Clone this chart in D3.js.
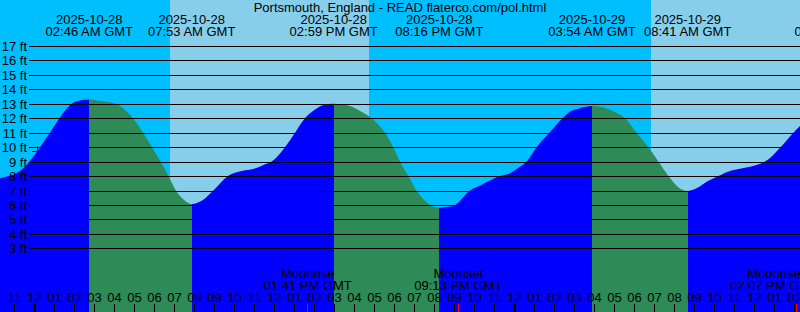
<!DOCTYPE html>
<html lang="en">
<head>
    <meta charset="UTF-8">
    <script src="https://d3js.org/d3.v7.min.js"></script>
    <style>
        body { margin: 0; background: #fff; }
        svg text { font-family: "Liberation Sans", Arial, sans-serif; fill: #000; }
    </style>
</head>
<body>
    <svg id="tide" width="800" height="312"></svg>

    <script>
        // hours after 2025-10-28 00:00 GMT
        const tideHours = [-1.7, -1.28, -0.7, -0.23, 0.3, 0.8, 1.27, 1.88, 2.3, 2.767, 3.3, 3.8, 4.3, 4.95, 5.45, 5.9, 6.33, 6.72, 7.1, 7.5, 7.883,
            8.45, 8.97, 9.7, 10.4, 11.0, 11.45, 11.88, 12.55, 13.05, 13.55, 14.0, 14.45, 14.983, 15.8, 16.3, 16.88, 17.55, 17.97, 18.3, 18.72, 19.13, 19.7, 20.267,
            20.6, 21.05, 21.8, 22.3, 22.8, 23.3, 23.8, 24.2, 24.63, 25.13, 25.77, 26.43, 26.8, 27.3, 27.9, 28.6, 29.0, 29.55, 30.13, 30.72, 31.22, 31.72, 32.2, 32.683,
            33.2, 33.7, 34.22, 34.8, 35.3, 35.8, 36.2, 36.55, 37.33, 37.97, 38.4];
        const tideFeet = [7.85, 8.0, 8.35, 9.0, 10.0, 11.0, 12.0, 13.0, 13.22, 13.3, 13.2, 13.1, 12.85, 12.0, 11.0, 10.0, 9.0, 8.0, 7.0, 6.35, 6.07,
            6.35, 7.0, 8.0, 8.35, 8.5, 8.75, 9.0, 10.0, 11.0, 12.0, 12.55, 12.9, 13.0, 12.85, 12.5, 12.0, 11.0, 10.0, 9.0, 8.0, 7.0, 6.1, 5.8,
            5.85, 6.0, 7.0, 7.35, 7.7, 8.0, 8.2, 8.55, 9.0, 10.0, 11.0, 12.0, 12.45, 12.7, 12.85, 12.7, 12.45, 12.0, 11.0, 10.0, 9.0, 8.0, 7.25, 6.97,
            7.2, 7.65, 8.0, 8.35, 8.5, 8.65, 8.8, 9.0, 10.0, 11.0, 11.6];

        // high / low tides
        const extremeTimes = ["2025-10-28T02:46Z", "2025-10-28T07:53Z", "2025-10-28T14:59Z", "2025-10-28T20:16Z", "2025-10-29T03:54Z", "2025-10-29T08:41Z", "2025-10-29T16:14Z"];
        const extremeTypes = ["H", "L", "H", "L", "H", "L", "H"];

        // sunrise / sunset, day is the lighter blue
        const sunTimes = ["2025-10-28T06:48Z", "2025-10-28T16:45Z", "2025-10-29T06:51Z", "2025-10-29T16:43Z"];
        const sunTypes = ["rise", "set", "rise", "set"];

        const moonTimes = ["2025-10-28T13:41Z", "2025-10-28T21:13Z", "2025-10-29T14:07Z"];
        const moonNames = ["Moonrise", "Moonset", "Moonrise"];

        const feetLevels = [3, 4, 5, 6, 7, 8, 9, 10, 11, 12, 13, 14, 15, 16, 17];
        const nowTime = "2025-10-28T00:09Z";
        const nowFeet = 9.75;
        const title = "Portsmouth, England - READ flaterco.com/pol.html";

        const W = 800, H = 312;
        const FS = 13;
        const base = Date.UTC(2025, 9, 28);
        const hr = h => new Date(base + h * 3600e3);

        const x = d3.scaleUtc().domain([hr(-1.7), hr(38.3)]).range([0, W]);
        const y = d3.scaleLinear().domain([3, 17]).range([248.3, 46]);

        const svg = d3.select("#tide");
        const [t0, t1] = x.domain();

        // sky: night before first sunrise
        const skyEdges = [t0, ...sunTimes.map(s => new Date(s)), t1];
        for (let i = 0; i < skyEdges.length - 1; i++) {
            const a = Math.max(+skyEdges[i], +t0), b = Math.min(+skyEdges[i + 1], +t1);
            if (b <= a) continue;
            const isDay = i > 0 && sunTypes[i - 1] === "rise";
            svg.append("rect")
                .attr("x", Math.round(x(a))).attr("y", 0)
                .attr("width", Math.round(x(b)) - Math.round(x(a))).attr("height", H)
                .attr("fill", isDay ? "#87ceeb" : "#00bfff");
        }

        // water, blue while rising and green while falling
        const tide = tideHours.map((h, i) => ({ t: hr(h), ft: tideFeet[i] }));
        const area = d3.area()
            .x(d => x(d.t)).y0(H).y1(d => y(d.ft))
            .curve(d3.curveMonotoneX);

        const defs = svg.append("defs");
        const exDates = extremeTimes.map(s => new Date(s));
        const segEdges = [t0, ...exDates.filter(d => d > t0 && d < t1), t1];
        segEdges.forEach((d, i) => {
            if (i === segEdges.length - 1) return;
            const next = exDates.findIndex(e => e >= segEdges[i + 1]);
            const rising = extremeTypes[next] === "H";
            const xa = Math.round(x(d)), xb = Math.round(x(segEdges[i + 1]));
            defs.append("clipPath").attr("id", "seg" + i)
                .append("rect").attr("x", xa).attr("y", 0).attr("width", xb - xa).attr("height", H);
            svg.append("path")
                .datum(tide)
                .attr("clip-path", `url(#seg${i})`)
                .attr("d", area)
                .attr("fill", rising ? "#0000ff" : "#2e8b57");
        });

        // height lines
        svg.selectAll(".level")
            .data(feetLevels)
            .enter().append("line")
            .attr("x1", 29).attr("x2", W)
            .attr("y1", d => Math.round(y(d)) + 0.5)
            .attr("y2", d => Math.round(y(d)) + 0.5)
            .attr("stroke", "#000").attr("stroke-width", 1);

        svg.selectAll(".flabel")
            .data(feetLevels)
            .enter().append("text")
            .attr("x", 27).attr("y", d => Math.round(y(d)) + 5)
            .attr("text-anchor", "end").attr("font-size", FS)
            .text(d => d + " ft");

        // now mark
        const nx = Math.round(x(new Date(nowTime))), ny = Math.round(y(nowFeet));
        svg.append("path")
            .attr("d", `M${nx - 5},${ny + 0.5}H${nx + 6}M${nx + 0.5},${ny - 5}V${ny + 6}`)
            .attr("stroke", "#000").attr("stroke-width", 1);

        // title and tide labels
        svg.append("text").attr("x", W / 2).attr("y", 11.5)
            .attr("text-anchor", "middle").attr("font-size", FS).text(title);

        const fmtDate = d3.utcFormat("%Y-%m-%d");
        const fmtTime = d3.utcFormat("%I:%M %p GMT");
        exDates.forEach(d => {
            const cx = x(d);
            svg.append("text").attr("x", cx).attr("y", 24)
                .attr("text-anchor", "middle").attr("font-size", FS).text(fmtDate(d));
            svg.append("text").attr("x", cx).attr("y", 36)
                .attr("text-anchor", "middle").attr("font-size", FS).text(fmtTime(d));
        });

        // hour axis along the bottom
        const axis = d3.axisTop(x)
            .ticks(d3.utcHour.every(1))
            .tickFormat(d3.utcFormat("%I"))
            .tickSize(8).tickPadding(2);
        const gAxis = svg.append("g")
            .attr("transform", `translate(0,${H})`)
            .call(axis);
        gAxis.select(".domain").remove();
        gAxis.selectAll(".tick line")
            .attr("stroke", "#000")
            .attr("shape-rendering", "crispEdges")
            .attr("stroke-width", d => d.getUTCHours() === 0 ? 3 : 1);
        gAxis.selectAll(".tick text")
            .attr("font-family", "Liberation Sans, Arial, sans-serif")
            .attr("font-size", FS).attr("fill", "#000");

        // moon events
        moonTimes.forEach((s, i) => {
            const d = new Date(s);
            const mx = x(d);
            svg.append("line")
                .attr("x1", mx).attr("x2", mx).attr("y1", H - 8).attr("y2", H)
                .attr("stroke", "#ff0000").attr("shape-rendering", "crispEdges");
            const lx = Math.min(mx, W - 26);
            svg.append("text").attr("x", lx).attr("y", 278)
                .attr("text-anchor", "middle").attr("font-size", FS).text(moonNames[i]);
            svg.append("text").attr("x", lx).attr("y", 290)
                .attr("text-anchor", "middle").attr("font-size", FS).text(fmtTime(d));
        });
    </script>
</body>
</html>
